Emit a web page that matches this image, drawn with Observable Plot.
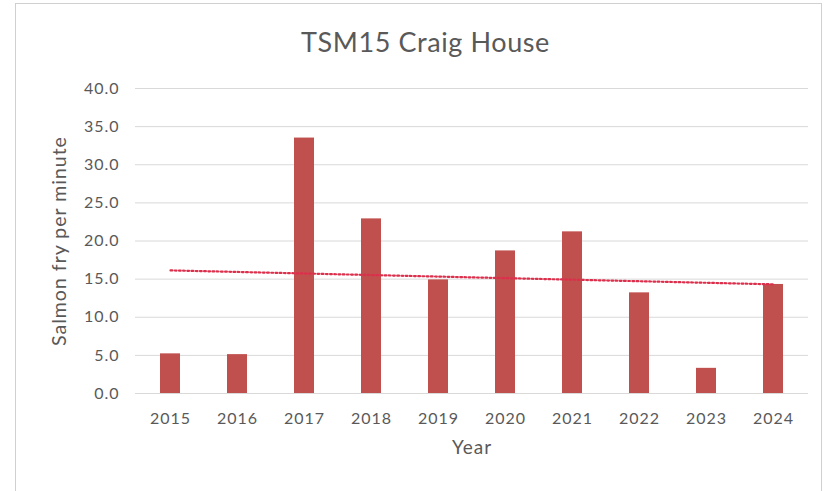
<!DOCTYPE html>
<html>
<head>
<meta charset="utf-8">
<script src="https://cdn.jsdelivr.net/npm/d3@7"></script>
<script src="https://cdn.jsdelivr.net/npm/@observablehq/plot@0.6"></script>
<style>
  html, body { margin: 0; padding: 0; background: #fff; }
  #wrap { position: relative; width: 829px; height: 491px; overflow: hidden; }
  #frame { position: absolute; left: 15px; top: 3px; width: 807px; height: 500px; border: 1px solid #d0d0d0; box-sizing: border-box; }
  #title { position: absolute; left: 0; top: 25px; width: 851px; text-align: center; font-family: Lato, "Open Sans", sans-serif; font-size: 27px; letter-spacing: 0.6px; color: #595959; z-index: 2; }
  #chart { position: absolute; left: 0; top: 0; z-index: 1; }
  #chart svg text { letter-spacing: 1px; }
</style>
</head>
<body>
<div id="wrap">
  <div id="frame"></div>
  <div id="chart"></div>
  <div id="title">TSM15 Craig House</div>
</div>
<script>
const years = ["2015","2016","2017","2018","2019","2020","2021","2022","2023","2024"];
const values = [5.2, 5.1, 33.5, 22.9, 14.9, 18.7, 21.2, 13.2, 3.3, 14.3];
const yTicks = [0, 5, 10, 15, 20, 25, 30, 35, 40];

const data = years.map((year, i) => ({year, value: values[i]}));

// linear trend (least squares) computed from the data
const n = values.length;
const xs = d3.range(n);
const mx = d3.mean(xs), my = d3.mean(values);
const slope = d3.sum(xs, (x, i) => (x - mx) * (values[i] - my)) / d3.sum(xs, x => (x - mx) ** 2);
const intercept = my - slope * mx;
const trend = years.map((year, i) => ({year, value: intercept + slope * i}));

const font = "Lato, 'Open Sans', sans-serif";

const chart = Plot.plot({
  width: 829,
  height: 491,
  marginLeft: 135,
  marginRight: 21,
  marginTop: 88,
  marginBottom: 98,
  style: {fontFamily: font, fontSize: "16px", color: "#595959", background: "transparent"},
  x: {domain: years, paddingInner: 0.7, paddingOuter: 0.35, label: null},
  y: {domain: [0, 40], label: null},
  marks: [
    Plot.gridY(yTicks, {stroke: "#d9d9d9", strokeOpacity: 1, strokeWidth: 1}),
    Plot.axisY(yTicks, {tickSize: 0, tickPadding: 16, tickFormat: d => d.toFixed(1), label: null, fill: "#595959", fontSize: 16}),
    Plot.axisX({tickSize: 0, tickPadding: 19, label: null, fill: "#595959", fontSize: 16}),
    Plot.barY(data, {x: "year", y: "value", fill: "#c0504d"}),
    Plot.line(trend, {x: "year", y: "value", stroke: "#dc2f4c", strokeWidth: 2.2, strokeDasharray: "1.8,2.4"}),
    Plot.text(["Year"], {frameAnchor: "bottom", dy: 60, fontSize: 19, fill: "#595959"}),
    Plot.text(["Salmon fry per minute"], {frameAnchor: "left", textAnchor: "middle", dx: -76, rotate: -90, fontSize: 19.5, fill: "#595959"})
  ]
});
document.getElementById("chart").appendChild(chart);
</script>
</body>
</html>
